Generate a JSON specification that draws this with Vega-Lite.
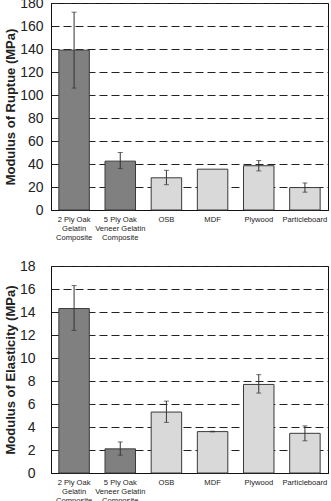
{
  "$schema": "https://vega.github.io/schema/vega-lite/v6.json",
  "padding": {"left": 3, "top": -5, "right": 0, "bottom": 0},
  "background": "white",
  "datasets": {
    "d": [
      {"material": "2 Ply Oak|Gelatin|Composite", "group": "composite", "mor": 139, "mor_lo": 106, "mor_hi": 172, "moe": 14.3, "moe_lo": 12.4, "moe_hi": 16.3},
      {"material": "5 Ply Oak|Veneer Gelatin|Composite", "group": "composite", "mor": 42.5, "mor_lo": 36, "mor_hi": 50, "moe": 2.1, "moe_lo": 1.55, "moe_hi": 2.7},
      {"material": "OSB", "group": "commercial", "mor": 28, "mor_lo": 22, "mor_hi": 34.5, "moe": 5.3, "moe_lo": 4.4, "moe_hi": 6.25},
      {"material": "MDF", "group": "commercial", "mor": 35.5, "mor_lo": null, "mor_hi": null, "moe": 3.6, "moe_lo": 3.58, "moe_hi": 3.63},
      {"material": "Plywood", "group": "commercial", "mor": 38.5, "mor_lo": 34, "mor_hi": 43, "moe": 7.7, "moe_lo": 6.95, "moe_hi": 8.55},
      {"material": "Particleboard", "group": "commercial", "mor": 19.5, "mor_lo": 15.5, "mor_hi": 23.5, "moe": 3.45, "moe_lo": 2.8, "moe_hi": 4.1}
    ]
  },
  "data": {"name": "d"},
  "spacing": 56,
  "bounds": "flush",
  "vconcat": [
    {
      "width": 277,
      "height": 207,
      "layer": [
        {
          "mark": {"type": "bar", "stroke": "#3a3a3a", "strokeWidth": 1},
          "encoding": {
            "x": {"field": "material", "type": "nominal", "sort": null, "scale": {"paddingInner": 0.34, "paddingOuter": 0.17}, "axis": {"title": null, "labelAngle": 0, "labelExpr": "split(datum.label, '|')", "labelFontSize": 7.6, "labelLineHeight": 9, "labelPadding": 5, "ticks": false, "labelColor": "#222", "labelBaseline": "top"}},
            "y": {"field": "mor", "type": "quantitative", "title": "Modulus of Ruptue (MPa)", "scale": {"domain": [0, 180]}, "axis": {"values": [0, 20, 40, 60, 80, 100, 120, 140, 160, 180], "labelPadding": 8, "titlePadding": 2}},
            "color": {"field": "group", "type": "nominal", "scale": {"domain": ["composite", "commercial"], "range": ["#808080", "#d9d9d9"]}, "legend": null}
          }
        },
        {
          "mark": {"type": "errorbar", "ticks": {"size": 5, "color": "#333"}, "rule": {"color": "#333", "strokeWidth": 1}},
          "encoding": {
            "x": {"field": "material", "type": "nominal", "sort": null},
            "y": {"field": "mor_lo", "type": "quantitative", "title": "Modulus of Ruptue (MPa)", "axis": {"values": [0, 20, 40, 60, 80, 100, 120, 140, 160, 180], "labelPadding": 8, "titlePadding": 2}},
            "y2": {"field": "mor_hi"}
          }
        }
      ]
    },
    {
      "width": 277,
      "height": 207,
      "layer": [
        {
          "mark": {"type": "bar", "stroke": "#3a3a3a", "strokeWidth": 1},
          "encoding": {
            "x": {"field": "material", "type": "nominal", "sort": null, "scale": {"paddingInner": 0.34, "paddingOuter": 0.17}, "axis": {"title": null, "labelAngle": 0, "labelExpr": "split(datum.label, '|')", "labelFontSize": 7.6, "labelLineHeight": 9, "labelPadding": 5, "ticks": false, "labelColor": "#222", "labelBaseline": "top"}},
            "y": {"field": "moe", "type": "quantitative", "title": "Modulus of Elasticity (MPa)", "scale": {"domain": [0, 18]}, "axis": {"values": [0, 2, 4, 6, 8, 10, 12, 14, 16, 18], "labelPadding": 16, "titlePadding": 2}},
            "color": {"field": "group", "type": "nominal", "scale": {"domain": ["composite", "commercial"], "range": ["#808080", "#d9d9d9"]}, "legend": null}
          }
        },
        {
          "mark": {"type": "errorbar", "ticks": {"size": 5, "color": "#333"}, "rule": {"color": "#333", "strokeWidth": 1}},
          "encoding": {
            "x": {"field": "material", "type": "nominal", "sort": null},
            "y": {"field": "moe_lo", "type": "quantitative", "title": "Modulus of Elasticity (MPa)", "axis": {"values": [0, 2, 4, 6, 8, 10, 12, 14, 16, 18], "labelPadding": 16, "titlePadding": 2}},
            "y2": {"field": "moe_hi"}
          }
        }
      ]
    }
  ],
  "config": {
    "font": "Liberation Sans",
    "view": {"stroke": "#111", "strokeWidth": 1},
    "axis": {"domainColor": "#111", "labelFont": "Liberation Sans", "titleFont": "Liberation Sans", "labelOverlap": false},
    "axisY": {"grid": true, "gridColor": "#222", "gridDash": [8, 4], "gridWidth": 1, "ticks": false, "labelFontSize": 14, "labelColor": "#222", "titleFontSize": 13, "titleFontWeight": "bold", "titleColor": "#222", "domain": true, "labelOverlap": false},
    "axisX": {"grid": false, "domain": true}
  }
}
